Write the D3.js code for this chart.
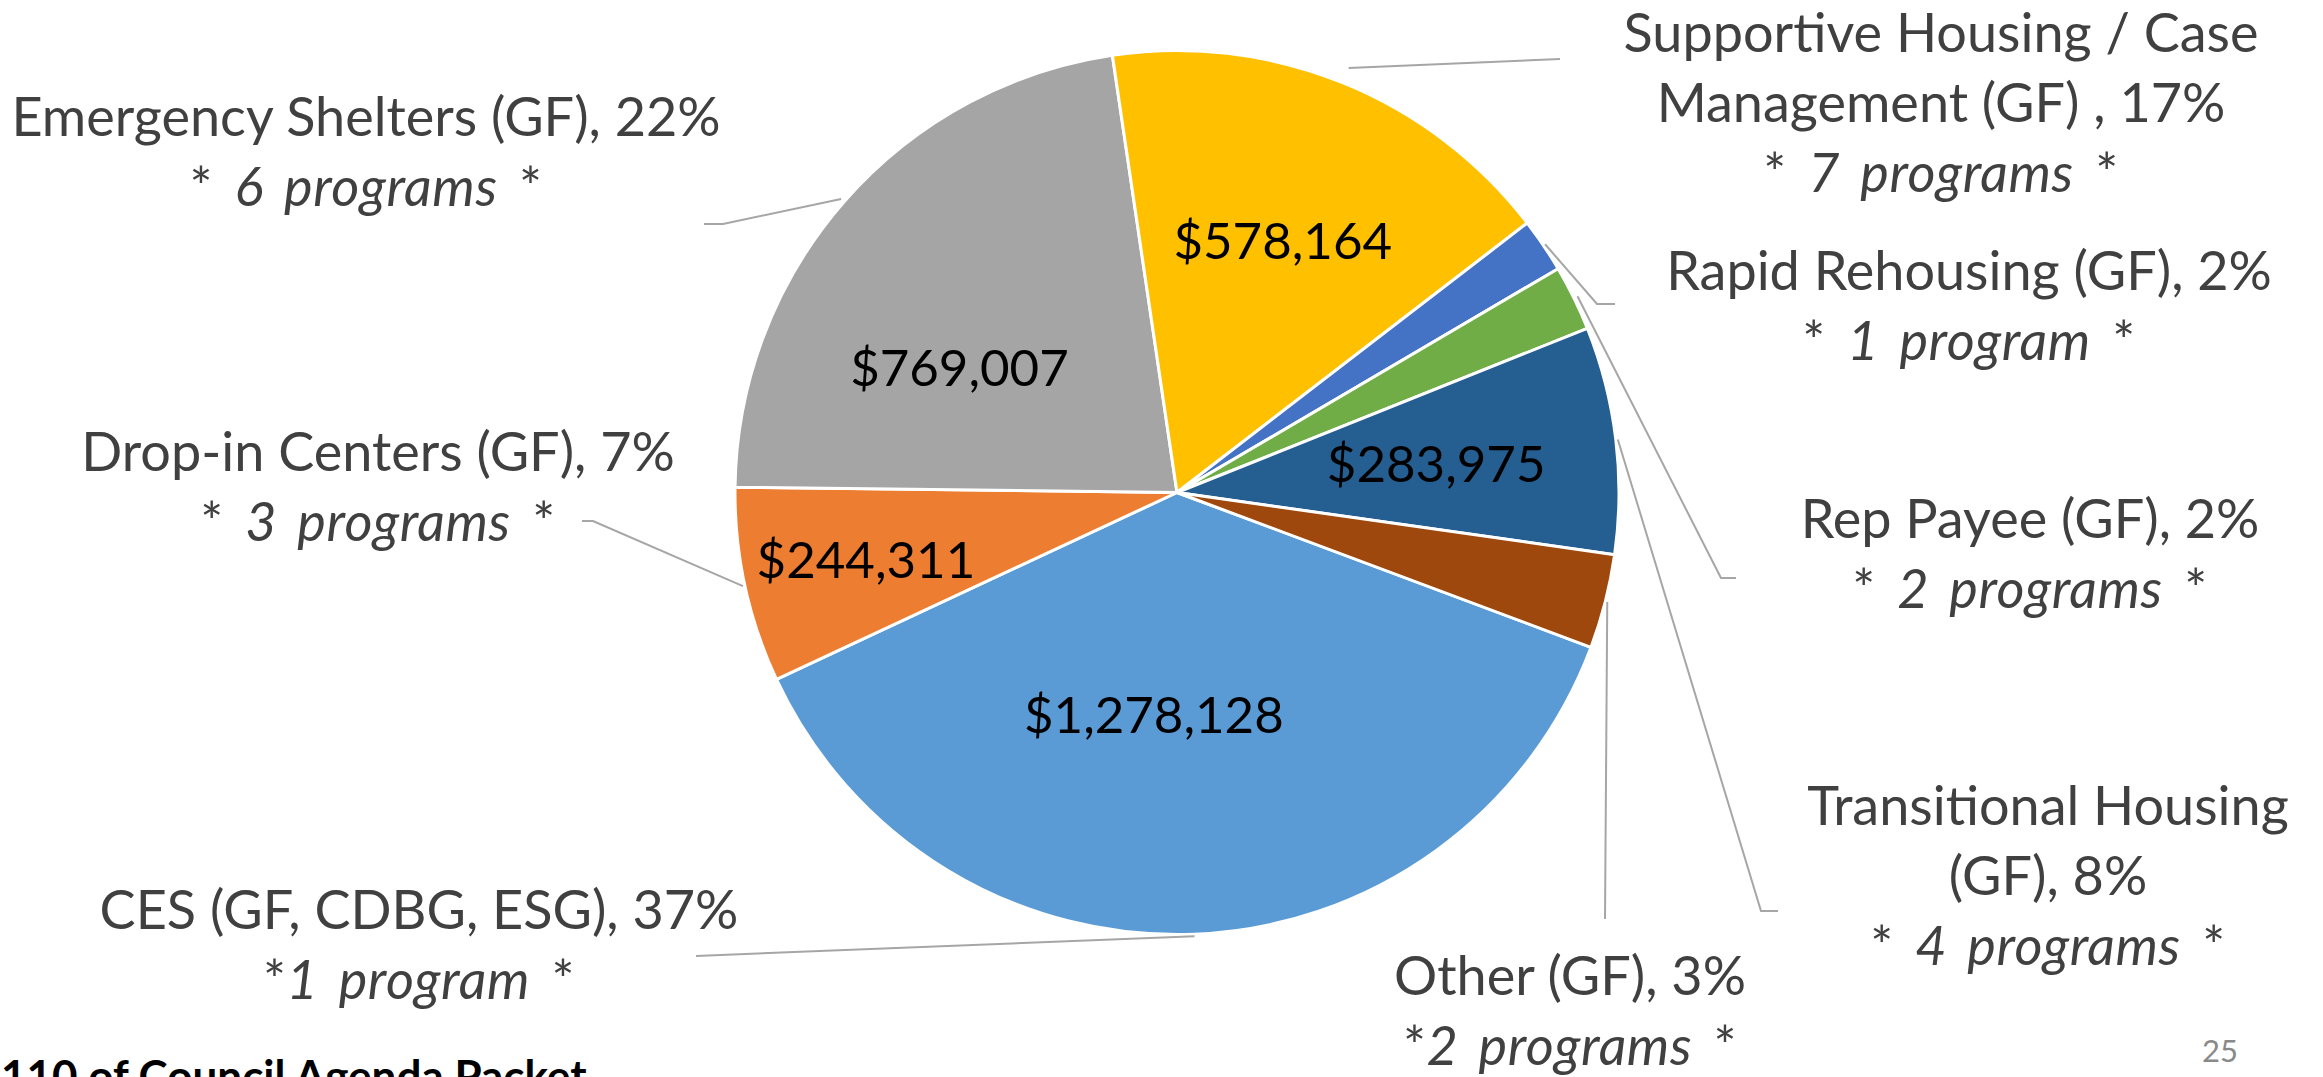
<!DOCTYPE html>
<html>
<head>
<meta charset="utf-8">
<script src="https://cdn.jsdelivr.net/npm/d3@7"></script>
<style>
  html, body { margin: 0; padding: 0; background: #fff; }
  svg { display: block; }
  .cat { font-family: Lato, "Open Sans", sans-serif; fill: #404040; }
  .val { font-family: Lato, "Open Sans", sans-serif; fill: #000; }
</style>
</head>
<body>
<div id="chart"></div>
<script>
(function(){
  // slice order as in the source workbook (first slice starts at the lower right)
  const categories = [
    "CES (GF, CDBG, ESG)",
    "Drop-in Centers (GF)",
    "Emergency Shelters (GF)",
    "Supportive Housing / Case|Management (GF) ",
    "Rapid Rehousing (GF)",
    "Rep Payee (GF)",
    "Transitional Housing|(GF)",
    "Other (GF)"
  ];
  const amounts = [1278128, 244311, 769007, 578164, 68000, 82000, 283975, 118000];
  const showAmount = [true, true, true, true, false, false, true, false];
  const programLabels = [
    ["*", "1 program", " *"],
    ["* ", "3 programs", " *"],
    ["* ", "6 programs", " *"],
    ["* ", "7 programs", " *"],
    ["* ", "1 program", " *"],
    ["* ", "2 programs", " *"],
    ["* ", "4 programs", " *"],
    ["*", "2 programs", " *"]
  ];
  const colors = ["#5B9BD5", "#ED7D31", "#A5A5A5", "#FFC000", "#4472C4", "#70AD47", "#255E91", "#9E480E"];

  // layout
  const width = 2323, height = 1077;
  const cx = 1177, cy = 492.5, radius = 442;
  const firstSliceAngle = 110.5; // degrees clockwise from 12 o'clock
  const valueSize = 51, catSize = 54, lineH = 70;

  // category label boxes: centre x, first baseline y
  const labelPos = [
    [419, 929], [378, 471], [366, 136], [1941, 52],
    [1969, 290], [2030, 538], [2048, 825], [1570, 995]
  ];
  // leader lines: gap off the pie edge, then bend points
  const leaderGap = [2, 2, 4, 16, 2, 4, 2, 2];
  const leaderPts = [
    [[696, 956]],
    [[593, 521], [582, 521]],
    [[723, 224], [704, 224]],
    [[1560, 59]],
    [[1597, 304], [1615, 304]],
    [[1721, 578], [1736, 578]],
    [[1761, 911], [1778, 911]],
    [[1605, 919]]
  ];
  // value label placement inside slice: radius fraction, angle shift (deg)
  const valuePlace = [[0.506, 8.2], [0.72, 0], [0.568, -11.2], [0.617, 0.8], [0, 0], [0, 0], [0.59, 0.5], [0, 0]];

  const total = d3.sum(amounts);
  const pct = d3.format(".0%");
  const money = d3.format("$,");
  const rad = Math.PI / 180;

  const svg = d3.select("#chart")
    .append("svg")
    .attr("width", width)
    .attr("height", height);

  svg.append("rect").attr("width", width).attr("height", height).attr("fill", "#fff");

  const pie = d3.pie()
    .sort(null)
    .value(d => d)
    .startAngle(firstSliceAngle * rad)
    .endAngle(firstSliceAngle * rad + 2 * Math.PI);

  const arcs = pie(amounts);
  const arc = d3.arc().innerRadius(0).outerRadius(radius);

  const g = svg.append("g").attr("transform", `translate(${cx},${cy})`);

  g.selectAll(".slice")
    .data(arcs)
    .enter().append("path")
    .attr("class", "slice")
    .attr("d", arc)
    .attr("fill", (d, i) => colors[i])
    .attr("stroke", "#fff")
    .attr("stroke-width", 3)
    .attr("stroke-linejoin", "round");

  function polar(a, r) {
    return [cx + r * Math.sin(a), cy - r * Math.cos(a)];
  }

  // leader lines
  const line = d3.line();
  svg.selectAll(".leader")
    .data(arcs)
    .enter().append("path")
    .attr("class", "leader")
    .attr("d", (d, i) => {
      const mid = (d.startAngle + d.endAngle) / 2;
      return line([polar(mid, radius + leaderGap[i])].concat(leaderPts[i]));
    })
    .attr("fill", "none")
    .attr("stroke", "#A6A6A6")
    .attr("stroke-width", 2);

  // value labels
  svg.selectAll(".val")
    .data(arcs.filter((d, i) => showAmount[i]))
    .enter().append("text")
    .attr("class", "val")
    .attr("text-anchor", "middle")
    .attr("dy", "0.36em")
    .attr("font-size", valueSize)
    .attr("transform", d => {
      const p = valuePlace[d.index];
      const mid = (d.startAngle + d.endAngle) / 2 + p[1] * rad;
      const xy = polar(mid, p[0] * radius);
      return `translate(${xy[0]},${xy[1]})`;
    })
    .text(d => money(d.data));

  // category labels
  arcs.forEach((d, i) => {
    const parts = categories[i].split("|");
    parts[parts.length - 1] += ", " + pct(d.data / total);
    const t = svg.append("text")
      .attr("class", "cat")
      .attr("text-anchor", "middle")
      .attr("font-size", catSize)
      .attr("x", labelPos[i][0])
      .attr("y", labelPos[i][1]);
    parts.forEach((s, k) => {
      t.append("tspan")
        .attr("x", labelPos[i][0])
        .attr("dy", k === 0 ? 0 : lineH)
        .text(s);
    });
    const pl = programLabels[i];
    const t2 = svg.append("text")
      .attr("class", "cat")
      .attr("text-anchor", "middle")
      .attr("font-size", catSize)
      .attr("word-spacing", 7)
      .attr("letter-spacing", 0.6)
      .attr("x", labelPos[i][0])
      .attr("y", labelPos[i][1] + parts.length * lineH);
    t2.append("tspan").text(pl[0]);
    t2.append("tspan").attr("font-style", "italic").text(pl[1]);
    t2.append("tspan").text(pl[2]);
  });

  // slide furniture
  svg.append("text")
    .attr("x", 2220).attr("y", 1062)
    .attr("text-anchor", "middle")
    .attr("font-family", "Lato, sans-serif")
    .attr("font-size", 31)
    .attr("fill", "#898989")
    .text("25");

  svg.append("text")
    .attr("x", 1).attr("y", 1092)
    .attr("font-family", "Lato, sans-serif")
    .attr("font-weight", "bold")
    .attr("font-size", 44)
    .attr("fill", "#000")
    .text("110 of Council Agenda Packet");
})();
</script>
</body>
</html>
